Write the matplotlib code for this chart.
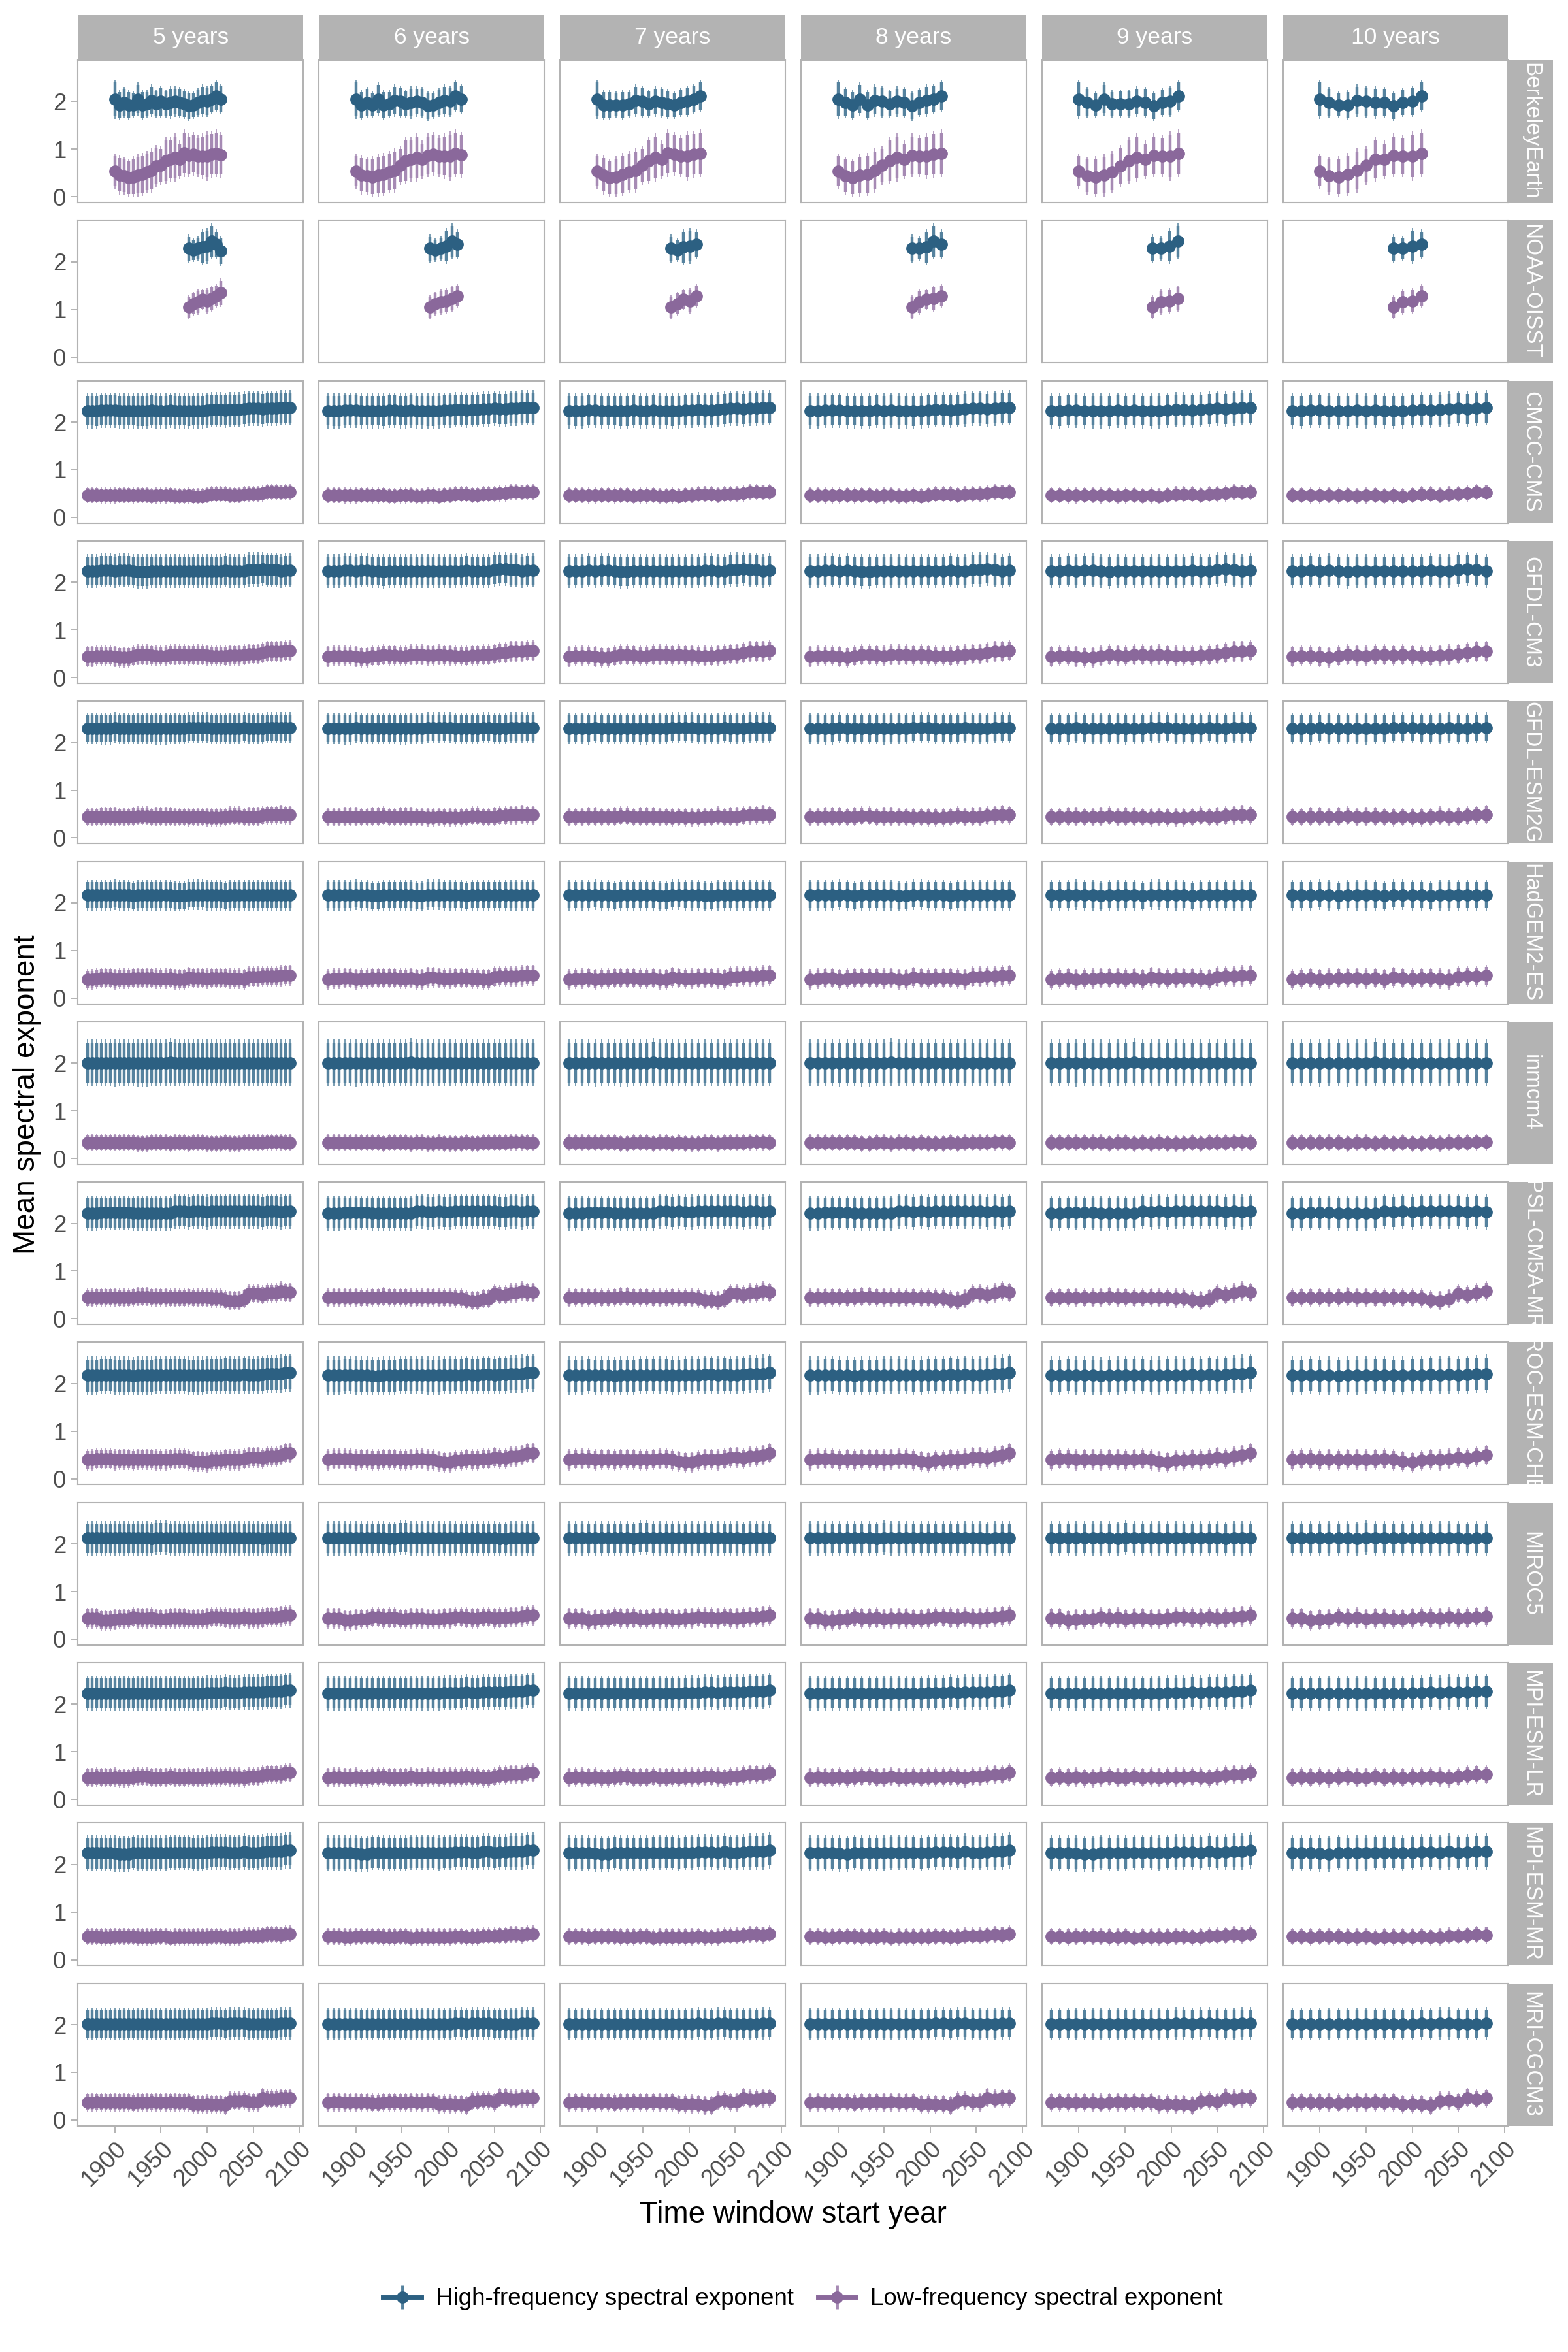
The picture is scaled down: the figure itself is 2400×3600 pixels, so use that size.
import numpy as np
import matplotlib
matplotlib.use("Agg")
import matplotlib.pyplot as plt
from matplotlib.lines import Line2D
from matplotlib.legend_handler import HandlerTuple

plt.rcParams['font.family'] = ['Liberation Sans', 'DejaVu Sans']

# ---- data -------------------------------------------------------------
windows = [5, 6, 7, 8, 9, 10]
window_labels = ['5 years', '6 years', '7 years', '8 years', '9 years', '10 years']

# first / last window start year used for the model runs, per window length
model_first_start = 1870
model_last_start = [2090, 2092, 2087, 2086, 2086, 2080]
obs_end_year = 2020

# BerkeleyEarth, 5-year resolution from 1900
be_first = 1900
be_hf = [2.05, 1.93, 1.98, 1.93, 1.93, 2.05, 1.93, 1.95, 2.02, 1.95, 2.00, 1.95,
         1.98, 2.00, 1.98, 1.95, 1.91, 1.93, 1.98, 2.02, 2.00, 2.05, 2.11, 2.05]
be_hf_err = [0.41, 0.31, 0.33, 0.31, 0.28, 0.35, 0.32, 0.29, 0.34, 0.30, 0.34, 0.30,
             0.34, 0.32, 0.33, 0.32, 0.32, 0.29, 0.31, 0.34, 0.33, 0.32, 0.34, 0.32]
be_lf = [0.54, 0.46, 0.44, 0.40, 0.42, 0.45, 0.47, 0.52, 0.55, 0.65, 0.66, 0.76,
         0.79, 0.83, 0.78, 0.92, 0.87, 0.90, 0.86, 0.86, 0.86, 0.89, 0.91, 0.88]
be_lf_err = [0.37, 0.41, 0.40, 0.40, 0.43, 0.44, 0.45, 0.45, 0.47, 0.44, 0.41, 0.50,
             0.47, 0.51, 0.40, 0.50, 0.46, 0.46, 0.44, 0.48, 0.53, 0.50, 0.50, 0.48]

# NOAA-OISST, 5-year resolution from 1980
noaa_first = 1980
noaa_hf = [2.28, 2.25, 2.28, 2.31, 2.33, 2.43, 2.37, 2.23]
noaa_hf_err = [0.30, 0.25, 0.27, 0.38, 0.38, 0.38, 0.31, 0.32]
noaa_lf = [1.05, 1.12, 1.16, 1.21, 1.18, 1.23, 1.28, 1.35]
noaa_lf_err = [0.26, 0.25, 0.27, 0.23, 0.27, 0.27, 0.25, 0.30]

# models, decadal resolution 1870..2090
cmcc_hf = [2.24, 2.23, 2.25, 2.25, 2.24, 2.24, 2.23, 2.25, 2.24, 2.25, 2.24, 2.23,
           2.24, 2.25, 2.26, 2.25, 2.26, 2.27, 2.29, 2.28, 2.29, 2.30, 2.30]
cmcc_lf = [0.47, 0.47, 0.46, 0.46, 0.47, 0.46, 0.47, 0.45, 0.46, 0.47, 0.45, 0.46,
           0.44, 0.47, 0.48, 0.48, 0.47, 0.48, 0.49, 0.50, 0.53, 0.52, 0.53]
gfdlcm3_hf = [2.24, 2.24, 2.25, 2.24, 2.25, 2.24, 2.23, 2.24, 2.24, 2.24, 2.24, 2.24,
              2.24, 2.24, 2.24, 2.25, 2.24, 2.24, 2.27, 2.28, 2.26, 2.24, 2.25]
gfdlcm3_lf = [0.44, 0.46, 0.46, 0.44, 0.43, 0.45, 0.48, 0.47, 0.46, 0.48, 0.48, 0.47,
              0.48, 0.47, 0.46, 0.45, 0.47, 0.48, 0.49, 0.52, 0.55, 0.55, 0.56]
gfdlesm_hf = [2.30, 2.30, 2.29, 2.31, 2.30, 2.30, 2.30, 2.30, 2.29, 2.30, 2.30, 2.31,
              2.31, 2.31, 2.30, 2.30, 2.30, 2.31, 2.30, 2.30, 2.31, 2.31, 2.31]
gfdlesm_lf = [0.44, 0.44, 0.45, 0.45, 0.44, 0.45, 0.46, 0.44, 0.45, 0.45, 0.44, 0.43,
              0.44, 0.43, 0.43, 0.44, 0.46, 0.44, 0.45, 0.47, 0.48, 0.49, 0.48]
hadgem_hf = [2.16, 2.16, 2.16, 2.17, 2.16, 2.15, 2.16, 2.16, 2.16, 2.16, 2.15, 2.17,
             2.17, 2.16, 2.16, 2.15, 2.16, 2.16, 2.16, 2.16, 2.16, 2.16, 2.16]
hadgem_lf = [0.39, 0.41, 0.42, 0.40, 0.41, 0.42, 0.42, 0.42, 0.41, 0.42, 0.40, 0.44,
             0.42, 0.41, 0.42, 0.42, 0.41, 0.40, 0.45, 0.46, 0.46, 0.47, 0.48]
inmcm_hf = [2.01, 2.01, 2.01, 2.00, 2.01, 2.01, 2.00, 2.01, 2.01, 2.02, 2.01, 2.01,
            2.01, 2.01, 2.01, 2.01, 2.01, 2.01, 2.01, 2.01, 2.01, 2.01, 2.01]
inmcm_lf = [0.33, 0.33, 0.33, 0.33, 0.33, 0.33, 0.32, 0.33, 0.33, 0.31, 0.33, 0.32,
            0.33, 0.32, 0.32, 0.33, 0.32, 0.33, 0.33, 0.33, 0.34, 0.34, 0.33]
ipsl_hf = [2.21, 2.21, 2.22, 2.22, 2.22, 2.21, 2.21, 2.21, 2.21, 2.21, 2.25, 2.24,
           2.25, 2.24, 2.26, 2.26, 2.25, 2.26, 2.25, 2.24, 2.25, 2.24, 2.25]
ipsl_lf = [0.44, 0.45, 0.45, 0.45, 0.44, 0.45, 0.46, 0.45, 0.45, 0.44, 0.44, 0.45,
           0.44, 0.44, 0.43, 0.39, 0.38, 0.42, 0.52, 0.50, 0.54, 0.58, 0.55]
mirocesm_hf = [2.17, 2.17, 2.18, 2.17, 2.17, 2.16, 2.17, 2.17, 2.18, 2.18, 2.18, 2.17,
               2.17, 2.18, 2.18, 2.19, 2.18, 2.19, 2.18, 2.19, 2.20, 2.21, 2.23]
mirocesm_lf = [0.40, 0.42, 0.42, 0.40, 0.41, 0.40, 0.41, 0.41, 0.40, 0.41, 0.42, 0.40,
               0.37, 0.35, 0.39, 0.41, 0.40, 0.42, 0.45, 0.43, 0.47, 0.50, 0.55]
miroc5_hf = [2.12, 2.12, 2.12, 2.12, 2.12, 2.12, 2.12, 2.11, 2.13, 2.12, 2.12, 2.12,
             2.12, 2.12, 2.12, 2.12, 2.12, 2.12, 2.12, 2.11, 2.12, 2.12, 2.12]
miroc5_lf = [0.44, 0.44, 0.40, 0.41, 0.43, 0.46, 0.44, 0.45, 0.43, 0.44, 0.44, 0.43,
             0.43, 0.44, 0.46, 0.45, 0.44, 0.46, 0.44, 0.45, 0.47, 0.48, 0.50]
mpilr_hf = [2.23, 2.23, 2.22, 2.22, 2.22, 2.23, 2.23, 2.23, 2.23, 2.23, 2.23, 2.23,
            2.23, 2.24, 2.24, 2.25, 2.24, 2.25, 2.25, 2.25, 2.27, 2.27, 2.30]
mpilr_lf = [0.46, 0.47, 0.46, 0.47, 0.45, 0.47, 0.48, 0.46, 0.46, 0.48, 0.46, 0.47,
            0.46, 0.47, 0.47, 0.48, 0.47, 0.45, 0.48, 0.51, 0.53, 0.52, 0.56]
mpimr_hf = [2.24, 2.24, 2.24, 2.23, 2.22, 2.25, 2.24, 2.24, 2.24, 2.25, 2.25, 2.25,
            2.24, 2.25, 2.26, 2.26, 2.25, 2.27, 2.25, 2.26, 2.27, 2.27, 2.30]
mpimr_lf = [0.49, 0.49, 0.48, 0.49, 0.49, 0.49, 0.48, 0.48, 0.49, 0.46, 0.48, 0.48,
            0.48, 0.48, 0.49, 0.47, 0.48, 0.50, 0.50, 0.51, 0.53, 0.52, 0.54]
mri_hf = [2.02, 2.01, 2.02, 2.02, 2.01, 2.02, 2.02, 2.02, 2.02, 2.02, 2.02, 2.02,
          2.02, 2.02, 2.03, 2.02, 2.03, 2.03, 2.02, 2.02, 2.02, 2.03, 2.03]
mri_lf = [0.37, 0.38, 0.37, 0.37, 0.37, 0.36, 0.37, 0.38, 0.37, 0.38, 0.37, 0.38,
          0.33, 0.34, 0.33, 0.31, 0.40, 0.41, 0.38, 0.47, 0.44, 0.46, 0.46]

model_names = ['CMCC-CMS', 'GFDL-CM3', 'GFDL-ESM2G', 'HadGEM2-ES', 'inmcm4',
               'IPSL-CM5A-MR', 'MIROC-ESM-CHEM', 'MIROC5', 'MPI-ESM-LR',
               'MPI-ESM-MR', 'MRI-CGCM3']
model_hf = [cmcc_hf, gfdlcm3_hf, gfdlesm_hf, hadgem_hf, inmcm_hf, ipsl_hf,
            mirocesm_hf, miroc5_hf, mpilr_hf, mpimr_hf, mri_hf]
model_lf = [cmcc_lf, gfdlcm3_lf, gfdlesm_lf, hadgem_lf, inmcm_lf, ipsl_lf,
            mirocesm_lf, miroc5_lf, mpilr_lf, mpimr_lf, mri_lf]
model_hf_err = [0.37, 0.36, 0.33, 0.32, 0.50, 0.37, 0.40, 0.36, 0.37, 0.38, 0.34]
model_lf_err = [0.17, 0.22, 0.20, 0.22, 0.18, 0.20, 0.22, 0.22, 0.20, 0.18, 0.20]

# ---- styling ----------------------------------------------------------
hf_color = '#2c6082'
lf_color = '#8a689b'
hf_bar = '#55829e'
lf_bar = '#a68ab4'
grey70 = '#b3b3b3'

W, H = 2400, 3600
left0, col_pitch, panel_w = 119.4, 368.9, 344.5
top0, row_pitch, panel_h = 92.0, 245.3, 218.0
strip = 69.0


def rect(left, top, w, h):
    return [left / W, 1 - (top + h) / H, w / W, h / H]


def sample(values, first, step, years):
    # pick the stored value of the nearest year
    idx = np.round((np.asarray(years) - first) / step).astype(int)
    idx = np.clip(idx, 0, len(values) - 1)
    return np.asarray(values)[idx]


def draw_series(ax, yrs, mean, err, color, bar_color):
    err = np.broadcast_to(err, mean.shape)
    ax.vlines(yrs, mean - err, mean + err, color=bar_color, lw=1.1, zorder=2)
    ax.vlines(yrs, mean - 0.85 * err, mean + 0.85 * err, color=bar_color, lw=3.2, zorder=2)
    ax.plot(yrs, mean, color=color, lw=5, marker='o', ms=12.5, zorder=3)


# rows: (label, hf, hf_err, lf, lf_err, first, step, kind)
rows = [('BerkeleyEarth', be_hf, be_hf_err, be_lf, be_lf_err, be_first, 5, 'obs'),
        ('NOAA-OISST', noaa_hf, noaa_hf_err, noaa_lf, noaa_lf_err, noaa_first, 5, 'obs')]
for i, name in enumerate(model_names):
    rows.append((name, model_hf[i], model_hf_err[i], model_lf[i], model_lf_err[i],
                 model_first_start, 10, 'model'))

fig = plt.figure(figsize=(24, 36), dpi=100)

n_rows = len(rows)
for r, (name, hf, hf_err, lf, lf_err, first, step, kind) in enumerate(rows):
    top = top0 + r * row_pitch
    for c, w in enumerate(windows):
        left = left0 + c * col_pitch
        ax = fig.add_axes(rect(left, top, panel_w, panel_h))

        if kind == 'obs':
            yrs = np.arange(first, obs_end_year - w + 1, w)
            hf_e = sample(hf_err, first, step, yrs)
            lf_e = sample(lf_err, first, step, yrs)
        else:
            yrs = np.arange(first, model_last_start[c] + 1, w)
            hf_e = hf_err
            lf_e = lf_err
        draw_series(ax, yrs, sample(hf, first, step, yrs), hf_e, hf_color, hf_bar)
        draw_series(ax, yrs, sample(lf, first, step, yrs), lf_e, lf_color, lf_bar)

        ax.set_xlim(1860, 2104)
        ax.set_ylim(-0.12, 2.87)
        ax.set_xticks([1900, 1950, 2000, 2050, 2100])
        ax.set_yticks([0, 1, 2])
        for sp in ax.spines.values():
            sp.set_color(grey70)
            sp.set_linewidth(1.5)
        ax.tick_params(axis='both', color=grey70, length=8, width=1.4,
                       labelsize=26.4, labelcolor='#4d4d4d', pad=5)
        if c > 0:
            ax.tick_params(axis='y', left=False, labelleft=False)
        if r < n_rows - 1:
            ax.tick_params(axis='x', bottom=False, labelbottom=False)
        else:
            ax.set_xticklabels(['1900', '1950', '2000', '2050', '2100'],
                               rotation=45, ha='right', va='top',
                               rotation_mode='anchor')

        # top strips
        if r == 0:
            sax = fig.add_axes(rect(left, top - strip, panel_w, strip))
            sax.set_facecolor(grey70)
            sax.set_xticks([])
            sax.set_yticks([])
            for sp in sax.spines.values():
                sp.set_visible(False)
            sax.text(0.5, 0.5, window_labels[c], color='white', fontsize=25.5,
                     ha='center', va='center', transform=sax.transAxes)

    # right strip (long names are clipped by the strip, as in the original)
    rax = fig.add_axes(rect(left0 + 5 * col_pitch + panel_w, top, strip, panel_h))
    rax.set_facecolor(grey70)
    rax.set_xticks([])
    rax.set_yticks([])
    for sp in rax.spines.values():
        sp.set_visible(False)
    rax.text(0.5, 0.5, name, color='white', fontsize=24, rotation=-90,
             ha='center', va='center', transform=rax.transAxes, clip_on=True)

# axis titles
fig.text((left0 + 5 * col_pitch + panel_w + left0) / 2 / W, 1 - 3390 / H,
         'Time window start year', fontsize=33, ha='center', va='center')
fig.text(41 / W, 1 - 1675 / H, 'Mean spectral exponent', fontsize=33,
         rotation=90, ha='center', va='center')

# legend
handles = []
for col, bar in ((hf_color, hf_bar), (lf_color, lf_bar)):
    handles.append((Line2D([], [], color=bar, lw=0, marker='|', ms=26, mew=3.5),
                    Line2D([], [], color=col, lw=5, marker='o', ms=12.5)))
fig.legend(handles, ['High-frequency spectral exponent', 'Low-frequency spectral exponent'],
           handler_map={tuple: HandlerTuple(ndivide=1)},
           loc='center', bbox_to_anchor=(1229 / W, 1 - 3519 / H), ncol=2,
           frameon=False, fontsize=26.4, handlelength=1.6, columnspacing=1.0,
           handletextpad=0.6)

fig.savefig('out.png', dpi=100, facecolor='white')
